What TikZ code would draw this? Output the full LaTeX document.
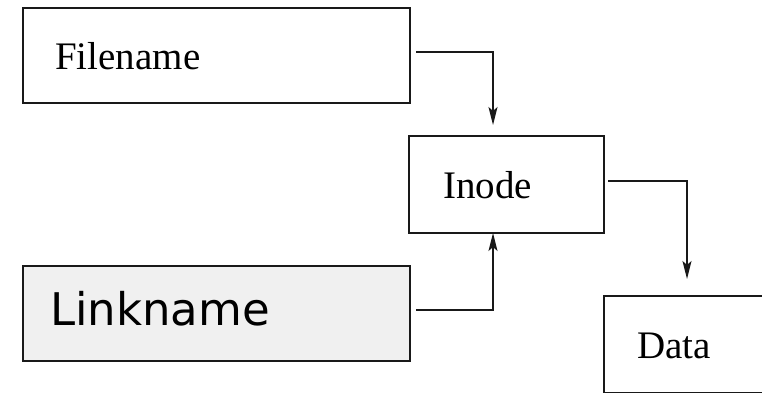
\documentclass[tikz,border=0pt]{standalone}
\usepackage{fontspec}
\setmainfont{Liberation Serif}
\newfontfamily\lnkfont{DejaVu Sans}
\usetikzlibrary{arrows.meta}
\begin{document}
\begin{tikzpicture}[x=1pt,y=-1pt,
  boxst/.style={draw=black!90,line width=1.8pt,rectangle,inner sep=0pt,anchor=north west},
  lbl/.style={inner sep=0pt,anchor=base west,font=\fontsize{39}{45}\selectfont},
  arr/.style={draw=black!90,line width=1.7pt,-{Stealth[length=18pt,width=9pt,inset=4pt]}}]
\clip (0,0) rectangle (762,393);
\useasboundingbox (0,0) rectangle (762,393);
\fill[white] (0,0) rectangle (762,393);
% boxes
\node[boxst,minimum width=387pt,minimum height=95pt] (fn) at (22,7) {};
\node[boxst,minimum width=195pt,minimum height=97pt] (in) at (408,135) {};
\node[boxst,fill=black!6,minimum width=387pt,minimum height=95pt] (ln) at (22,265) {};
\node[boxst,minimum width=180pt,minimum height=97pt] (da) at (603,295) {};
% labels
\node[lbl] (fnt) at (55,70) {Filename};
\node[lbl] (int) at (443,198) {Inode};
\node[lbl] (dat) at (637,358) {Data};
\node[lbl,font=\lnkfont\fontsize{45}{50}\selectfont] (lnt) at (50,325) {Linkname};
% connector ends
\coordinate (a1s) at (416,52);
\coordinate (a1e) at (493,125);
\coordinate (a2s) at (608,181);
\coordinate (a2e) at (687,279);
\coordinate (a3s) at (416,310);
\coordinate (a3e) at (493,233);
\draw[arr] (a1s) -| (a1e);
\draw[arr] (a2s) -| (a2e);
\draw[arr] (a3s) -| (a3e);
\end{tikzpicture}
\end{document}
